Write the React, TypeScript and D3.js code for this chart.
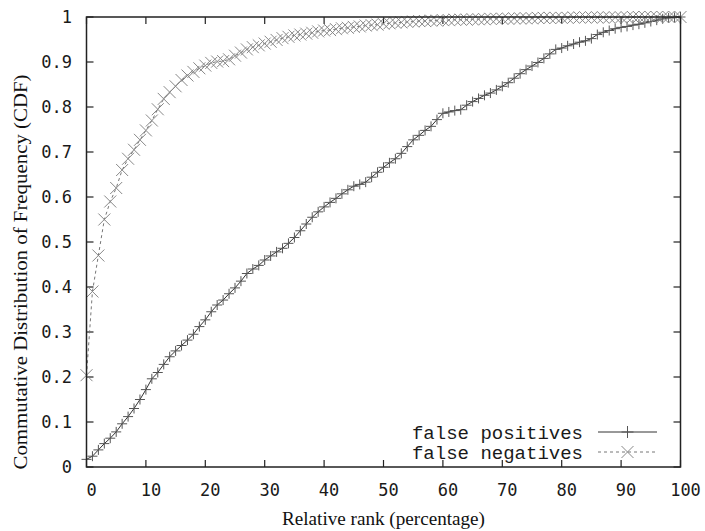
import React from "react";
import * as d3 from "d3";

const xTicks = [0, 10, 20, 30, 40, 50, 60, 70, 80, 90, 100];
const yTicks = [0, 0.1, 0.2, 0.3, 0.4, 0.5, 0.6, 0.7, 0.8, 0.9, 1];
const yTickLabels = ["0", "0.1", "0.2", "0.3", "0.4", "0.5", "0.6", "0.7", "0.8", "0.9", "1"];

const seriesNames = ["false positives", "false negatives"];

// values at relative rank 0,1,2,...,100
const falsePositives = [
  0.017, 0.024, 0.038, 0.052, 0.064, 0.078, 0.096, 0.112, 0.13, 0.15,
  0.172, 0.196, 0.21, 0.228, 0.245, 0.258, 0.27, 0.282, 0.295, 0.312,
  0.327, 0.345, 0.36, 0.371, 0.385, 0.398, 0.413, 0.43, 0.44, 0.448,
  0.46, 0.469, 0.478, 0.486, 0.497, 0.51, 0.525, 0.54, 0.555, 0.567,
  0.578, 0.588, 0.597, 0.607, 0.616, 0.624, 0.628, 0.633, 0.644, 0.655,
  0.666, 0.676, 0.685, 0.697, 0.712, 0.727, 0.737, 0.748, 0.757, 0.772,
  0.786, 0.789, 0.792, 0.794, 0.804, 0.812, 0.819, 0.826, 0.831, 0.838,
  0.846, 0.854, 0.864, 0.874, 0.883, 0.891, 0.899, 0.908, 0.918, 0.928,
  0.931, 0.936, 0.94, 0.944, 0.947, 0.952, 0.961, 0.966, 0.97, 0.974,
  0.977, 0.979, 0.982, 0.984, 0.987, 0.99, 0.993, 0.996, 0.998, 0.999,
  1.0,
];

const falseNegatives = [
  0.204, 0.39, 0.47, 0.55, 0.59, 0.62, 0.66, 0.685, 0.705, 0.727,
  0.748, 0.77, 0.795, 0.818, 0.833, 0.846, 0.86, 0.87, 0.878, 0.886,
  0.892, 0.898, 0.901, 0.902, 0.906, 0.914, 0.921, 0.928, 0.933, 0.937,
  0.941, 0.945, 0.949, 0.953, 0.956, 0.959, 0.961, 0.963, 0.965, 0.968,
  0.97, 0.971, 0.973, 0.975, 0.976, 0.978, 0.979, 0.981, 0.982, 0.983,
  0.985, 0.986, 0.987, 0.988, 0.989, 0.99, 0.991, 0.991, 0.992, 0.992,
  0.993, 0.993, 0.994, 0.994, 0.994, 0.995, 0.995, 0.995, 0.996, 0.996,
  0.996, 0.996, 0.997, 0.997, 0.997, 0.997, 0.998, 0.998, 0.998, 0.998,
  0.998, 0.998, 0.999, 0.999, 0.999, 0.999, 0.999, 0.999, 0.999, 0.999,
  0.999, 0.999, 1, 1, 1, 1, 1, 1, 1, 1,
  1,
];

const W = 705;
const H = 531;
const plot = { left: 86.5, right: 680.5, top: 17, bottom: 467 };

export default function App() {
  const x = d3.scaleLinear().domain([0, 100]).range([plot.left, plot.right]);
  const y = d3.scaleLinear().domain([0, 1]).range([plot.bottom, plot.top]);

  const fpPts = falsePositives.map((v, i) => [x(i), y(v)] as [number, number]);
  const fnPts = falseNegatives.map((v, i) => [x(i), y(v)] as [number, number]);
  const line = d3.line<[number, number]>();

  const plus = (px: number, py: number, s: number) =>
    `M${px - s},${py}h${2 * s}M${px},${py - s}v${2 * s}`;
  const cross = (px: number, py: number, s: number) =>
    `M${px - s},${py - s}l${2 * s},${2 * s}M${px - s},${py + s}l${2 * s},${-2 * s}`;

  const tickLen = 7;
  const axisColor = "#222";
  const textColor = "#1a1a1a";

  const legendTextRight = 583;
  const legendLineX0 = 598;
  const legendLineX1 = 657;
  const legendY = [432, 452];

  return (
    <svg
      width={W}
      height={H}
      style={{ position: "absolute", left: 0, top: 0, background: "#fff" }}
    >
      <rect x={0} y={0} width={W} height={H} fill="#fff" />

      {/* ticks (mirrored on all four sides) */}
      {yTicks.map((t) => (
        <g key={"yt" + t} stroke={axisColor} strokeWidth={1.2}>
          <line x1={plot.left} x2={plot.left + tickLen} y1={y(t)} y2={y(t)} />
          <line x1={plot.right} x2={plot.right - tickLen} y1={y(t)} y2={y(t)} />
        </g>
      ))}
      {xTicks.map((t) => (
        <g key={"xt" + t} stroke={axisColor} strokeWidth={1.2}>
          <line x1={x(t)} x2={x(t)} y1={plot.bottom} y2={plot.bottom - tickLen} />
          <line x1={x(t)} x2={x(t)} y1={plot.top} y2={plot.top + tickLen} />
        </g>
      ))}

      {/* tick labels */}
      {yTicks.map((t, i) => (
        <text
          key={"yl" + t}
          x={72}
          y={y(t)}
          dy="0.35em"
          textAnchor="end"
          fontFamily="DejaVu Sans Mono"
          fontSize={17}
          fill={textColor}
        >
          {yTickLabels[i]}
        </text>
      ))}
      {xTicks.map((t) => (
        <text
          key={"xl" + t}
          x={x(t) + 5}
          y={496}
          textAnchor="middle"
          fontFamily="DejaVu Sans Mono"
          fontSize={17}
          fill={textColor}
        >
          {t}
        </text>
      ))}

      {/* series: false positives */}
      <path d={line(fpPts) || ""} fill="none" stroke="#333" strokeWidth={1} />
      <path
        d={fpPts.map(([px, py]) => plus(px, py, 5)).join("")}
        fill="none"
        stroke="#555"
        strokeWidth={1}
      />

      {/* series: false negatives */}
      <path
        d={line(fnPts) || ""}
        fill="none"
        stroke="#777"
        strokeWidth={1}
        strokeDasharray="3,3"
      />
      <path
        d={fnPts.map(([px, py]) => cross(px, py, 6)).join("")}
        fill="none"
        stroke="#888"
        strokeWidth={1}
      />

      {/* frame */}
      <rect
        x={plot.left}
        y={plot.top}
        width={plot.right - plot.left}
        height={plot.bottom - plot.top}
        fill="none"
        stroke={axisColor}
        strokeWidth={1.5}
      />

      {/* legend */}
      {seriesNames.map((name, i) => (
        <g key={name}>
          <text
            x={legendTextRight}
            y={legendY[i]}
            dy="0.35em"
            textAnchor="end"
            fontFamily="Liberation Mono"
            fontSize={19}
            fill={textColor}
          >
            {name}
          </text>
          <line
            x1={legendLineX0}
            x2={legendLineX1}
            y1={legendY[i]}
            y2={legendY[i]}
            stroke={i === 0 ? "#333" : "#777"}
            strokeWidth={1}
            strokeDasharray={i === 0 ? undefined : "3,3"}
          />
          <path
            d={
              i === 0
                ? plus((legendLineX0 + legendLineX1) / 2, legendY[i], 6)
                : cross((legendLineX0 + legendLineX1) / 2, legendY[i], 6)
            }
            fill="none"
            stroke={i === 0 ? "#555" : "#888"}
            strokeWidth={1}
          />
        </g>
      ))}

      {/* axis titles */}
      <text
        x={383.5}
        y={525}
        textAnchor="middle"
        fontFamily="Liberation Serif"
        fontSize={19}
        textLength={203}
        lengthAdjust="spacingAndGlyphs"
        fill="#111"
      >
        Relative rank (percentage)
      </text>
      <text
        transform={`translate(27,272) rotate(-90)`}
        textAnchor="middle"
        fontFamily="Liberation Serif"
        fontSize={19}
        textLength={395}
        lengthAdjust="spacingAndGlyphs"
        fill="#111"
      >
        Commutative Distribution of Frequency (CDF)
      </text>
    </svg>
  );
}
